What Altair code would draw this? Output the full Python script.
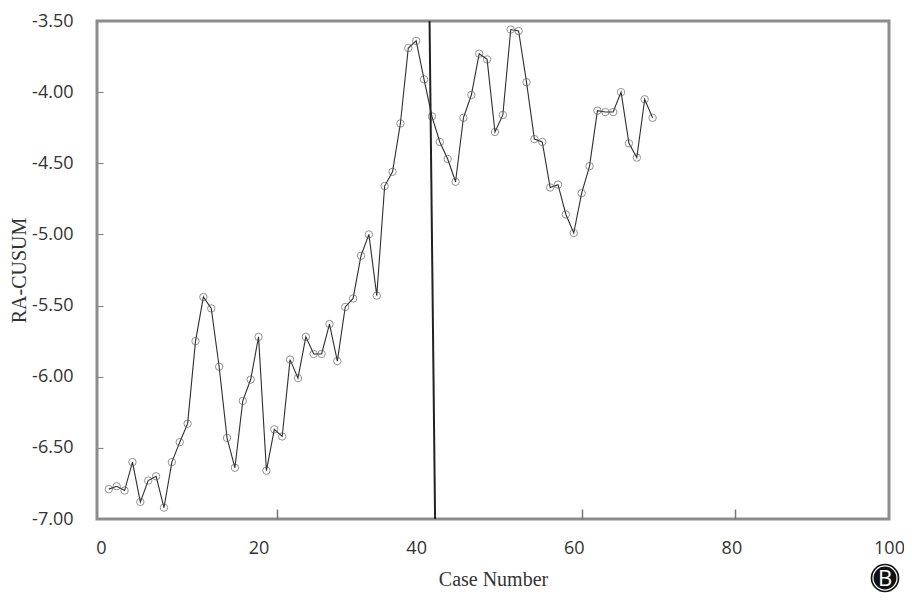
import altair as alt
import pandas as pd

# Case numbers and RA-CUSUM values
cases = list(range(1, 71))
ra_cusum = [
    -6.79, -6.77, -6.80, -6.60, -6.88, -6.73, -6.70, -6.92, -6.60, -6.46,
    -6.33, -5.75, -5.44, -5.52, -5.93, -6.43, -6.64, -6.17, -6.02, -5.72,
    -6.66, -6.37, -6.42, -5.88, -6.01, -5.72, -5.84, -5.84, -5.63, -5.89,
    -5.51, -5.45, -5.15, -5.00, -5.43, -4.66, -4.56, -4.22, -3.69, -3.64,
    -3.91, -4.17, -4.35, -4.47, -4.63, -4.18, -4.02, -3.73, -3.77, -4.28,
    -4.16, -3.56, -3.57, -3.93, -4.33, -4.35, -4.67, -4.65, -4.86, -4.99,
    -4.71, -4.52, -4.13, -4.14, -4.14, -4.00, -4.36, -4.46, -4.05, -4.18,
]

# change point marker (slightly slanted in the reference)
vline_x_top = [41.7]
vline_x_bottom = [42.4]

x_ticks = [0, 20, 40, 60, 80, 100]
y_ticks = [-3.5, -4.0, -4.5, -5.0, -5.5, -6.0, -6.5, -7.0]
x_inner_ticks = [22.3, 61.0, 80.5]
y_inner_ticks = [-4.0, -4.5, -5.0, -5.5, -6.0, -6.5]

x_domain = [-0.5, 100]
y_domain = [-7.0, -3.5]

df = pd.DataFrame({"case": cases, "value": ra_cusum})
df_v = pd.DataFrame({"x": vline_x_top, "x2": vline_x_bottom,
                     "y": [y_domain[1]], "y2": [y_domain[0]]})
df_badge = pd.DataFrame({"label": ["B"]})

xs = alt.Scale(domain=x_domain, nice=False, zero=False)
ys = alt.Scale(domain=y_domain, nice=False, zero=False)

label_font = "Open Sans"
title_font = "Liberation Serif"

x_main_axis = alt.Axis(
    values=x_ticks, format="d", labelFlush=False, ticks=False, tickSize=0,
    domain=False, grid=False, labelPadding=20, labelFont=label_font,
    labelFontSize=18, labelColor="#333333", title="Case Number",
    titleFont=title_font, titleFontSize=20, titleFontWeight="normal",
    titleColor="#333333", titlePadding=12, orient="bottom",
)
y_main_axis = alt.Axis(
    values=y_ticks, labelExpr="'-' + format(-datum.value, '.2f')",
    ticks=False, tickSize=0, domain=False, grid=False, labelPadding=24,
    labelFont=label_font, labelFontSize=18, labelColor="#333333",
    title="RA-CUSUM", titleFont=title_font, titleFontSize=20,
    titleFontWeight="normal", titleColor="#333333", titlePadding=2,
    orient="left",
)

base = alt.Chart(df)

line = base.mark_line(color="#2e2e2e", strokeWidth=1.1).encode(
    x=alt.X("case:Q", scale=xs, axis=x_main_axis),
    y=alt.Y("value:Q", scale=ys, axis=y_main_axis),
)

points = base.mark_point(shape="circle", filled=False, size=55,
                         stroke="#555555", strokeWidth=0.9).encode(
    x=alt.X("case:Q", scale=xs, axis=None),
    y=alt.Y("value:Q", scale=ys, axis=None),
)

vline = alt.Chart(df_v).mark_rule(color="#222222", strokeWidth=2).encode(
    x=alt.X("x:Q", scale=xs, axis=None),
    x2="x2:Q",
    y=alt.Y("y:Q", scale=ys, axis=None),
    y2="y2:Q",
)

tick_layer = base.mark_point(opacity=0).encode(
    x=alt.X("case:Q", scale=xs, axis=alt.Axis(
        values=x_inner_ticks, orient="bottom", offset=-10, tickSize=10,
        tickColor="#777777", tickWidth=1.5, labels=False, domain=False,
        grid=False, title=None)),
    y=alt.Y("value:Q", scale=ys, axis=alt.Axis(
        values=y_inner_ticks, orient="left", offset=-6, tickSize=6,
        tickColor="#888888", tickWidth=1.2, labels=False, domain=False,
        grid=False, title=None)),
)

badge_outer = alt.Chart(df_badge).mark_circle(
    color="#111111", opacity=1, size=820).encode(
    x=alt.value(788), y=alt.value(557))
badge_ring = alt.Chart(df_badge).mark_point(
    shape="circle", filled=False, stroke="white", strokeWidth=1.2,
    opacity=1, size=580).encode(x=alt.value(788), y=alt.value(557))
badge_text = alt.Chart(df_badge).mark_text(
    font=label_font, fontSize=22, fontWeight="normal", color="white",
    align="center", baseline="middle").encode(
    x=alt.value(788), y=alt.value(558), text="label:N")

chart = alt.layer(
    line, points, vline, tick_layer, badge_outer, badge_ring, badge_text
).resolve_axis(
    x="independent", y="independent"
).properties(
    width=792, height=498,
    autosize=alt.AutoSizeParams(type="none"),
    padding={"left": 89, "top": 13, "right": 15, "bottom": 78},
).configure_view(
    stroke="#8c8c8c", strokeWidth=3
)

chart.save("out.html", embed_options={"renderer": "svg", "actions": False})
